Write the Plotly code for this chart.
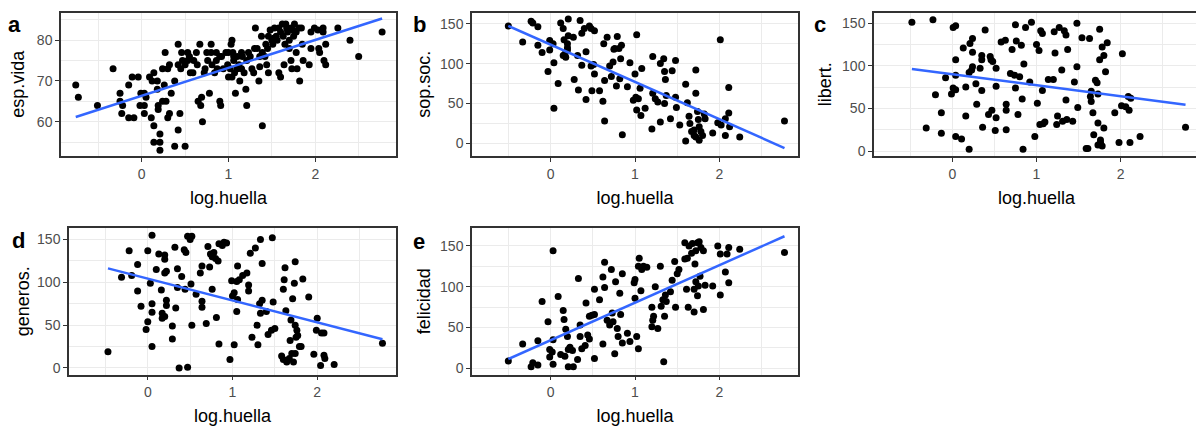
import numpy as np
import plotly.graph_objects as go

# ---------------- data ----------------
x_title = "log.huella"
panel_tags = ["a", "b", "c", "d", "e"]
y_titles = ["esp.vida", "sop.soc.", "libert.", "generos.", "felicidad"]

a_points = [(-0.76,69),(-0.73,66),(-0.51,64),(-0.33,73),(-0.25,67),(-0.25,65),(-0.22,64),(-0.23,62),
    (-0.15,69),(-0.15,61),(-0.09,61),(-0.11,71),(-0.04,71),(-0.01,67),(0.03,67),(-0.02,64),(0.03,64),
    (0.03,62),(0.09,71),(0.11,61),(0.14,72),(0.14,59),(0.14,55),(0.18,70),(0.18,68),(0.19,64),(0.19,63),
    (0.21,57),(0.21,55),(0.21,53),(0.24,65),(0.26,69),(0.24,73),(0.27,77),(0.28,65),(0.30,61),(0.32,62),
    (0.34,67),(0.32,74),(0.38,70),(0.38,54),(0.42,79),(0.42,58),(0.44,62),(0.42,74),(0.45,73),(0.47,75),
    (0.50,74),(0.50,54),(0.53,77),(0.53,75),(0.56,72),(0.59,72),(0.63,77),(0.64,74),(0.65,65),(0.68,64),
    (0.69,66),(0.67,79),(0.70,60),(0.72,72),(0.73,73),(0.75,77),(0.76,75),(0.78,67),(0.80,79),(0.80,77),
    (0.81,74),(0.84,72),(0.86,77),(0.87,73),(0.90,65),(0.91,64),(0.92,76),(0.94,73),(0.97,77),(0.99,74),
    (1.00,71),(1.00,77),(1.03,79),(1.04,80),(1.05,77),(1.06,76),(1.06,75),(1.04,71),(1.08,67),(1.10,73),
    (1.12,74),(1.13,70),(1.15,77),(1.16,76),(1.18,72),(1.20,68),(1.21,64),(1.21,75),(1.23,77),(1.27,73),
    (1.29,72),(1.31,83),(1.33,78),(1.35,70),(1.36,76),(1.38,81),(1.39,59),(1.39,77),(1.43,79),(1.44,74),
    (1.46,72),(1.46,81),(1.48,82.5),(1.50,80),(1.51,79),(1.53,83),(1.55,81),(1.56,80),(1.58,72),(1.60,71),
    (1.62,84),(1.63,81),(1.64,74),(1.65,79),(1.67,83),(1.68,82),(1.70,80),(1.70,78),(1.72,75),(1.73,73),
    (1.74,82.5),(1.76,84),(1.77,82),(1.78,77),(1.79,73),(1.81,83),(1.82,70),(1.84,83),(1.86,75),(1.93,74),
    (1.95,78),(1.99,83),(2.03,82.5),(2.04,78),(2.05,77),(2.09,83),(2.09,82),(2.10,75),(2.12,74),(2.12,79),
    (2.26,83),(2.40,80),(2.50,76),(2.77,82),
    (0.55,76),(0.46,77),(0.12,70),(0.05,66),(0.30,73),(0.60,75),(0.86,75),(1.10,76),(1.30,78),(1.42,76),
    (1.60,82),(1.72,83),(1.75,81),(1.66,84),(1.58,83),(1.52,80.5),(1.85,79),(1.95,82),(1.25,76),(1.02,73),
    (0.90,76),(1.07,72),(1.15,73),(1.36,73.5),(1.45,78),(1.78,82)]

b_points = [(-0.50,147),(-0.33,127),(-0.23,153),(-0.21,151),(-0.15,146),(-0.15,123),(-0.10,114),(-0.03,90),
    (-0.01,129),(-0.01,117),(0.03,125),(0.04,101),(0.04,44),(0.09,75),(0.12,151),(0.15,144),(0.16,130),
    (0.17,112),(0.18,108),(0.20,125),(0.21,156),(0.21,135),(0.20,117),(0.27,133),(0.28,80),(0.32,110),
    (0.33,67),(0.35,154),(0.37,98),(0.37,138),(0.40,144),(0.42,115),(0.42,55),(0.46,147),(0.48,144),
    (0.48,97),(0.49,66),(0.52,141),(0.52,87),(0.51,99),(0.58,66),(0.62,53),(0.63,125),(0.64,79),(0.64,28),
    (0.67,133),(0.70,97),(0.72,84),(0.74,102),(0.76,119),(0.78,72),(0.79,134),(0.81,119),(0.82,81),
    (0.83,106),(0.84,123),(0.85,11),(0.91,71),(0.94,101),(0.98,54),(1.00,87),(1.01,58),(1.02,136),
    (1.02,42),(1.04,56),(1.06,69),(1.07,35),(1.08,94),(1.12,44),(1.20,18),(1.21,109),(1.21,63),(1.24,56),
    (1.27,52),(1.30,27),(1.30,100),(1.34,106),(1.35,90),(1.35,50),(1.36,80),(1.37,60),(1.42,31),(1.44,91),
    (1.48,104),(1.48,58),(1.49,45),(1.53,23),(1.60,74),(1.60,3),(1.62,51),(1.64,34),(1.65,25),(1.67,15),
    (1.70,17),(1.72,63),(1.72,92),(1.72,8),(1.74,40),(1.76,21),(1.76,4),(1.78,15),(1.80,10),(1.82,37),
    (1.83,31),(1.92,13),(1.98,26),(2.01,130),(2.02,23),(2.07,31),(2.07,10),(2.11,70),(2.11,38),(2.12,21),
    (2.24,8),(2.77,28),(1.75,30),(1.70,10),(0.15,110),(0.20,120),(0.75,118)]

c_points = [(-0.48,151),(-0.23,154),(-0.31,27),(-0.20,66),(-0.13,45),(-0.13,21),(-0.08,86),(-0.01,67),
    (0.01,145),(0.04,147),(0.01,74),(0.04,72),(0.04,107),(0.04,17),(0.04,89),(0.11,14),(0.13,121),
    (0.16,75),(0.16,41),(0.20,92),(0.20,2),(0.21,126),(0.23,95),(0.24,132),(0.24,116),(0.24,99),(0.28,79),
    (0.29,55),(0.33,97),(0.35,107),(0.35,112),(0.35,71),(0.36,28),(0.39,142),(0.43,43),(0.45,111),
    (0.46,107),(0.47,48),(0.48,105),(0.51,24),(0.52,39),(0.52,76),(0.52,97),(0.58,128),(0.63,130),
    (0.64,55),(0.64,48),(0.64,25),(0.69,91),(0.71,119),(0.74,89),(0.75,74),(0.75,148),(0.76,129),
    (0.78,43),(0.80,87),(0.82,124),(0.83,61),(0.84,2),(0.85,102),(0.87,145),(0.92,81),(0.94,151),
    (0.98,17),(1.00,125),(1.01,56),(1.03,118),(1.05,141),(1.07,138),(1.07,71),(1.04,31),(1.08,32),
    (1.10,34),(1.14,84),(1.20,84),(1.21,140),(1.22,115),(1.24,31),(1.25,41),(1.27,145),(1.30,95),
    (1.31,35),(1.33,141),(1.35,136),(1.35,60),(1.36,37),(1.37,119),(1.43,35),(1.45,81),(1.48,150),
    (1.48,99),(1.49,51),(1.54,133),(1.59,3),(1.61,3),(1.63,132),(1.64,64),(1.65,70),(1.65,58),(1.67,45),
    (1.68,19),(1.70,83),(1.72,80),(1.73,33),(1.73,67),(1.73,7),(1.75,143),(1.75,107),(1.76,10),(1.76,13),
    (1.78,6),(1.78,122),(1.80,112),(1.80,27),(1.84,127),(1.82,93),(1.93,45),(1.98,10),(2.01,53),
    (2.02,114),(2.06,52),(2.09,64),(2.10,48),(2.12,62),(2.11,10),(2.23,17),(2.77,28)]

d_points = [(-0.47,19),(-0.31,106),(-0.22,137),(-0.19,108),(-0.12,121),(-0.12,90),(-0.08,72),(-0.02,45),
    (0.00,54),(0.00,137),(0.03,99),(0.05,155),(0.05,75),(0.05,65),(0.05,25),(0.10,115),(0.13,133),
    (0.16,91),(0.17,64),(0.17,58),(0.20,132),(0.20,127),(0.20,111),(0.22,113),(0.22,79),(0.22,73),
    (0.20,60),(0.29,49),(0.29,34),(0.32,141),(0.33,70),(0.35,116),(0.35,94),(0.37,0),(0.40,107),
    (0.43,138),(0.44,92),(0.45,135),(0.47,1),(0.47,154),(0.50,150),(0.52,154),(0.51,98),(0.52,50),
    (0.57,86),(0.62,111),(0.64,119),(0.64,78),(0.64,71),(0.69,52),(0.71,142),(0.73,118),(0.74,133),
    (0.76,92),(0.76,130),(0.78,135),(0.80,128),(0.81,59),(0.83,125),(0.84,145),(0.84,28),(0.88,143),
    (0.90,147),(0.93,146),(0.97,10),(0.99,102),(1.00,84),(1.02,27),(1.02,88),(1.05,66),(1.05,101),
    (1.06,119),(1.06,80),(1.08,103),(1.12,108),(1.17,111),(1.19,97),(1.19,90),(1.21,134),(1.23,36),
    (1.27,140),(1.29,50),(1.30,27),(1.32,75),(1.33,64),(1.33,150),(1.35,122),(1.35,79),(1.40,66),
    (1.42,39),(1.46,44),(1.48,77),(1.47,152),(1.50,46),(1.58,14),(1.60,92),(1.61,103),(1.62,117),
    (1.63,67),(1.60,10),(1.64,7),(1.67,11),(1.68,32),(1.69,56),(1.70,17),(1.71,81),(1.72,7),(1.73,99),
    (1.74,124),(1.74,50),(1.74,17),(1.75,36),(1.76,44),(1.77,38),(1.79,25),(1.81,25),(1.83,104),
    (1.90,83),(1.96,16),(2.00,58),(1.99,44),(2.04,3),(2.05,41),(2.08,41),(2.08,15),(2.09,11),(2.20,4),
    (2.77,29)]

e_points = [(-0.50,9),(-0.33,30),(-0.23,2),(-0.21,7),(-0.15,4),(-0.15,34),(-0.10,82),(-0.03,57),
    (-0.01,23),(-0.01,14),(0.03,144),(0.03,35),(0.03,5),(0.02,20),(0.09,88),(0.12,17),(0.15,71),
    (0.16,60),(0.17,15),(0.18,48),(0.20,39),(0.21,2),(0.21,23),(0.23,26),(0.26,22),(0.27,2),(0.32,11),
    (0.33,110),(0.35,39),(0.35,53),(0.37,24),(0.41,28),(0.42,80),(0.44,41),(0.46,36),(0.46,64),(0.49,65),
    (0.52,12),(0.52,97),(0.52,66),(0.58,84),(0.62,30),(0.62,112),(0.64,130),(0.64,99),(0.67,59),(0.70,53),
    (0.72,121),(0.73,68),(0.74,57),(0.76,18),(0.77,106),(0.79,49),(0.80,39),(0.82,92),(0.83,66),
    (0.85,116),(0.85,31),(0.91,43),(0.94,33),(0.99,105),(1.00,109),(1.00,86),(1.02,39),(1.04,125),
    (1.05,135),(1.04,24),(1.07,95),(1.08,121),(1.10,125),(1.14,124),(1.20,75),(1.20,51),(1.21,59),
    (1.22,64),(1.24,100),(1.27,49),(1.30,125),(1.31,76),(1.33,84),(1.34,8),(1.35,64),(1.36,90),(1.37,82),
    (1.42,94),(1.44,108),(1.47,131),(1.48,75),(1.50,116),(1.52,121),(1.59,154),(1.59,134),(1.61,97),
    (1.62,135),(1.63,75),(1.64,150),(1.67,141),(1.68,153),(1.70,69),(1.70,97),(1.71,128),(1.72,144),
    (1.72,106),(1.74,89),(1.74,154),(1.75,101),(1.76,155),(1.77,113),(1.78,148),(1.81,144),(1.81,72),
    (1.83,102),(1.92,101),(1.98,150),(2.01,90),(2.01,140),(2.07,118),(2.09,140),(2.11,148),(2.11,105),
    (2.24,146),(2.77,142)]

# ---------------- helpers ----------------
def linear_fit(x, y, n_out=80):
    """Least-squares straight line (geom_smooth(method = 'lm'))."""
    x = np.asarray(x, float)
    y = np.asarray(y, float)
    slope, intercept = np.polyfit(x, y, 1)
    xs = np.linspace(x.min(), x.max(), n_out)
    return xs, intercept + slope * xs

# The page body has an 8px default margin, so the figure is drawn 8px in
# from the window's top-left corner; size it to fill the rest exactly.
PAGE_W, PAGE_H, OFF = 1204, 426, 8
W, H = PAGE_W - OFF, PAGE_H - OFF
def px(v):
    return (v - OFF) / W
def py(v):
    return 1 - (v - OFF) / H

panels = [
    dict(pts=a_points, dom_x=(61, 396), dom_y=(12.5, 156), yr=(51.6, 86.8), ydt=10, ymin=5, tag=(15, 24.5), ys=12),
    dict(pts=b_points, dom_x=(472, 798), dom_y=(12.5, 156), yr=(-15.7, 164), ydt=50, ymin=25, tag=(419, 24.5), ys=5),
    dict(pts=c_points, dom_x=(874, 1199), dom_y=(12.5, 156), yr=(-5.8, 162.5), ydt=50, ymin=25, tag=(819.5, 24.5), ys=6),
    dict(pts=d_points, dom_x=(69, 396), dom_y=(228, 374.5), yr=(-7.6, 163.5), ydt=50, ymin=25, tag=(18.5, 240), ys=3),
    dict(pts=e_points, dom_x=(472, 798), dom_y=(228, 374.5), yr=(-7.5, 172), ydt=50, ymin=25, tag=(419, 241), ys=5),
]

FONT = "Liberation Sans, Arial, sans-serif"
GRID = "#EBEBEB"
DARK = "#333333"
TICK = "#4D4D4D"

fig = go.Figure()
layout = dict(
    width=W, height=H,
    margin=dict(l=0, r=0, t=0, b=0, autoexpand=False),
    paper_bgcolor="white", plot_bgcolor="white",
    showlegend=False,
    font=dict(family=FONT, color="black"),
    annotations=[],
)

for i, p in enumerate(panels):
    k = "" if i == 0 else str(i + 1)
    xs_ = [t[0] for t in p["pts"]]
    ys_ = [t[1] for t in p["pts"]]
    fig.add_trace(go.Scatter(
        x=xs_, y=ys_, mode="markers", xaxis="x" + k, yaxis="y" + k,
        marker=dict(color="black", size=7, line=dict(width=0)),
        hoverinfo="skip"))
    lx, ly = linear_fit(xs_, ys_)
    fig.add_trace(go.Scatter(
        x=lx, y=ly, mode="lines", xaxis="x" + k, yaxis="y" + k,
        line=dict(color="#3366FF", width=2.5), hoverinfo="skip"))

    common = dict(
        showline=True, mirror=True, linecolor=DARK, linewidth=1.5,
        ticks="outside", ticklen=4, tickwidth=1.2, tickcolor=DARK,
        tickfont=dict(size=14, color=TICK, family=FONT),
        showgrid=True, gridcolor=GRID, gridwidth=1.3,
        zeroline=False, tickmode="linear", automargin=False,
    )
    layout["xaxis" + k] = dict(
        common,
        domain=[px(p["dom_x"][0]), px(p["dom_x"][1])],
        anchor="y" + k, range=[-0.93, 2.93], tick0=0, dtick=1,
        minor=dict(dtick=0.5, tick0=0, showgrid=True, gridcolor=GRID, gridwidth=0.7, ticklen=0),
        title=dict(text=x_title, font=dict(size=18, color="black", family=FONT), standoff=11),
    )
    layout["yaxis" + k] = dict(
        common,
        domain=[py(p["dom_y"][1]), py(p["dom_y"][0])],
        anchor="x" + k, range=list(p["yr"]), tick0=0, dtick=p["ydt"],
        minor=dict(dtick=p["ymin"], tick0=0, showgrid=True, gridcolor=GRID, gridwidth=0.7, ticklen=0),
        title=dict(text=y_titles[i], font=dict(size=18, color="black", family=FONT), standoff=p["ys"]),
    )
    layout["annotations"].append(dict(
        text="<b>%s</b>" % panel_tags[i], xref="paper", yref="paper",
        x=px(p["tag"][0]), y=py(p["tag"][1]), xanchor="center", yanchor="middle",
        showarrow=False, font=dict(size=22, color="black", family=FONT)))

fig.update_layout(**layout)
fig.write_html("out.html")
